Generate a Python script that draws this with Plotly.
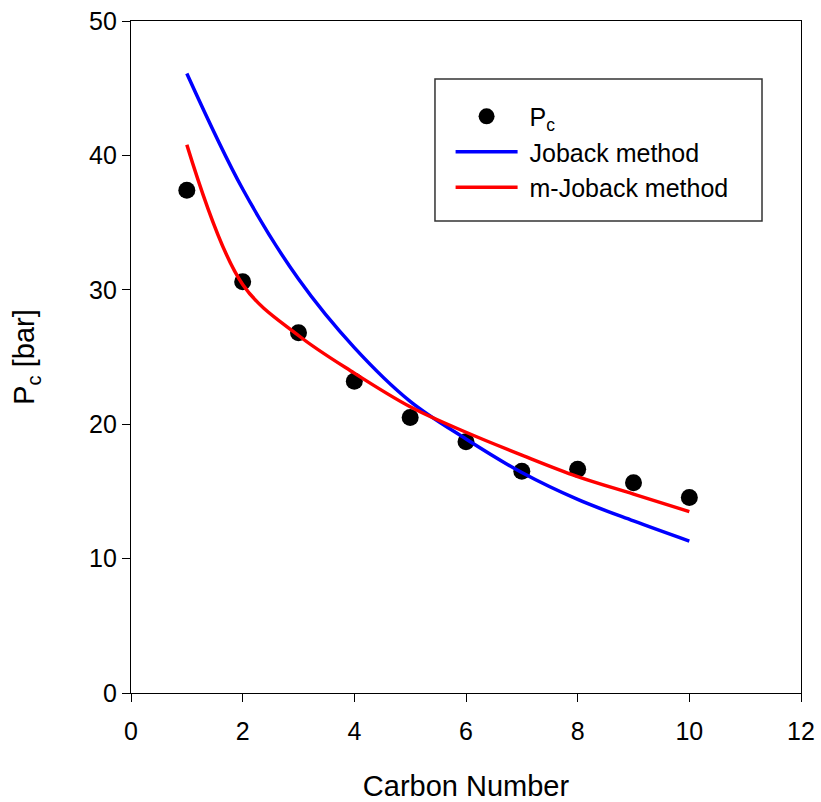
import plotly.graph_objects as go

carbon = [1, 2, 3, 4, 5, 6, 7, 8, 9, 10]
pc_exp = [37.4, 30.6, 26.8, 23.2, 20.5, 18.7, 16.5, 16.65, 15.65, 14.55]
pc_joback = [46.1, 37.5, 30.8, 25.7, 21.7, 18.9, 16.4, 14.4, 12.8, 11.3]
pc_mjoback = [40.8, 30.4, 26.6, 23.8, 21.3, 19.4, 17.7, 16.1, 14.8, 13.5]

font = "Liberation Sans, Arial, sans-serif"

fig = go.Figure()
fig.add_trace(go.Scatter(x=carbon, y=pc_exp, mode="markers", name="\u00a0P<sub>c</sub>",
                         marker=dict(color="black", size=17)))
fig.add_trace(go.Scatter(x=carbon, y=pc_joback, mode="lines", name="\u00a0Joback method",
                         line=dict(color="#0000ff", width=3.5, shape="spline")))
fig.add_trace(go.Scatter(x=carbon, y=pc_mjoback, mode="lines", name="\u00a0m-Joback method",
                         line=dict(color="#ff0000", width=3.5, shape="spline")))

axis_style = dict(showgrid=False, zeroline=False, showline=True, linecolor="black",
                  linewidth=1.2, mirror=True, ticks="outside", ticklen=8,
                  tickcolor="black", ticklabeloverflow="allow", automargin=False,
                  tickfont=dict(family=font, size=25, color="black"))

fig.update_xaxes(range=[0, 12], dtick=2, ticklabelstandoff=8,
                 title=dict(text="Carbon Number", standoff=32,
                            font=dict(family=font, size=29, color="black")), **axis_style)
fig.update_yaxes(range=[0, 50], dtick=10,
                 title=dict(text="P<sub>c</sub> [bar]", standoff=45,
                            font=dict(family=font, size=29, color="black")), **axis_style)

# legend frame
fig.add_shape(type="rect", xref="paper", yref="paper", x0=0.4537, x1=0.9418,
              y0=0.7024, y1=0.9137, line=dict(color="#333333", width=1.5),
              fillcolor="white", layer="below")

fig.update_layout(
    width=821, height=802,
    margin=dict(l=131, r=20, t=21, b=109),
    plot_bgcolor="white", paper_bgcolor="white",
    font=dict(family=font, color="black"),
    legend=dict(x=0.477, y=0.892, xanchor="left", yanchor="top",
                borderwidth=0, bgcolor="rgba(0,0,0,0)",
                font=dict(family=font, size=25, color="black"),
                itemwidth=62, tracegroupgap=0),
)

# drop the default page margin so the figure sits at the window origin
fig.write_html("out.html", config={"displayModeBar": False}, post_script=(
    "document.body.style.margin='0';"
    "document.documentElement.style.overflow='hidden';"))
